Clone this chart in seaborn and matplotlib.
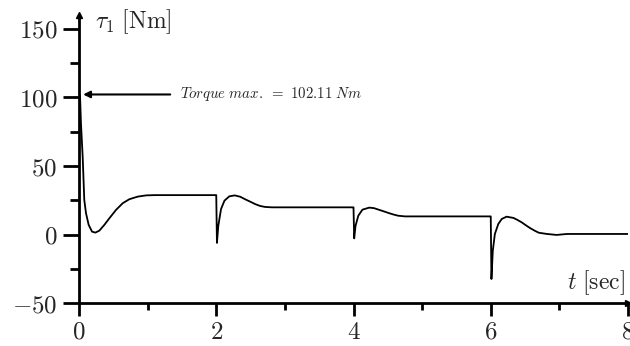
import numpy as np
import pandas as pd
import matplotlib
matplotlib.use("Agg")
import matplotlib.pyplot as plt
import seaborn as sns

# valeurs (t en s, couple en Nm)
t_sec = [0.0, 0.015, 0.029, 0.054, 0.066, 0.077, 0.102, 0.141, 0.19, 0.238,
         0.296, 0.369, 0.442, 0.539, 0.637, 0.733, 0.855, 0.977, 1.1, 1.4, 1.995,
         2.0, 2.01, 2.03, 2.07, 2.12, 2.19, 2.27, 2.35, 2.42, 2.5, 2.57, 2.64, 2.71, 2.81,
         3.2, 3.6, 3.995,
         4.0, 4.01, 4.03, 4.07, 4.13, 4.23, 4.3, 4.36, 4.44, 4.51, 4.58, 4.65, 4.75,
         5.2, 5.6, 5.995,
         6.0, 6.01, 6.03, 6.06, 6.11, 6.16, 6.23, 6.33, 6.39, 6.45, 6.51, 6.57, 6.64,
         6.70, 6.82, 6.96, 7.11, 7.5, 8.0]
torque = [102.11, 101.2, 80.6, 56.3, 40.0, 25.3, 15.6, 7.1, 2.2, 1.5,
          2.9, 7.1, 11.9, 18.0, 22.9, 25.8, 27.7, 28.6, 28.8, 28.8, 28.8,
          28.8, -6.0, 6.5, 18.7, 24.8, 27.9, 28.6, 27.6, 25.8, 23.9, 22.2, 20.9, 20.2, 19.9,
          19.9, 19.9, 19.9,
          19.9, -2.7, 6.5, 13.8, 18.2, 19.7, 19.3, 18.3, 17.0, 15.8, 14.7, 13.8, 13.3,
          13.3, 13.3, 13.3,
          13.3, -32.3, -11.7, 0.5, 7.8, 11.4, 13.1, 12.2, 10.7, 9.0, 6.9, 4.9, 2.9,
          1.4, 0.5, -0.2, 0.5, 0.5, 0.5]

x_major = [0, 2, 4, 6, 8]
x_minor = [1, 3, 5, 7]
y_major = [-50, 0, 50, 100, 150]
y_minor = [-25, 25, 75, 125]

sns.set_style("white")
plt.rcParams["mathtext.fontset"] = "cm"
plt.rcParams["font.family"] = ["DejaVu Serif"]

df = pd.DataFrame({"t": t_sec, "tau": torque})

fig = plt.figure(figsize=(6.3, 3.46), dpi=100)
ax = fig.add_axes([79 / 630, 1 - 303.3 / 346, (628 - 79) / 630, (303.3 - 15) / 346])

sns.lineplot(data=df, x="t", y="tau", sort=False, estimator=None,
             color="black", lw=1.3, ax=ax)

ax.set_xlim(0, 8)
ax.set_ylim(-50, 160)
ax.set_xlabel("")
ax.set_ylabel("")

for s in ["top", "right"]:
    ax.spines[s].set_visible(False)
for s in ["left", "bottom"]:
    ax.spines[s].set_linewidth(2)
    ax.spines[s].set_color("black")

ax.set_xticks(x_major)
ax.set_xticks(x_minor, minor=True)
ax.set_yticks(y_major)
ax.set_yticks(y_minor, minor=True)
ax.set_xticklabels([f"${v}$" for v in x_major], fontsize=18)
ax.set_yticklabels([f"${v}$" for v in y_major], fontsize=18)
ax.tick_params(axis="x", which="both", bottom=True, direction="out", width=2, color="black")
ax.tick_params(axis="y", which="both", left=True, direction="out", width=2, color="black")
ax.tick_params(axis="x", which="major", length=9.5, pad=3)
ax.tick_params(axis="x", which="minor", length=5)
ax.tick_params(axis="y", which="major", length=11.5, pad=4)
ax.tick_params(axis="y", which="minor", length=6.5)

# fleches en bout d'axes
ax.plot([0], [160], marker="^", color="black", ms=5, clip_on=False)
ax.plot([8], [-50], marker=">", color="black", ms=5, clip_on=False)

ax.text(0.23, 155, r"$\tau_1\ \mathrm{[Nm]}$", fontsize=17, ha="left", va="center")
ax.text(7.96, -35, r"$t\ \mathrm{[sec]}$", fontsize=17, ha="right", va="center")

ax.annotate("", xy=(0.02, 102.11), xytext=(1.37, 102.11),
            arrowprops=dict(arrowstyle="-|>", color="black", lw=1.5, mutation_scale=10))
ax.text(1.47, 102.11, r"$\mathit{Torque\ max.\ =\ 102.11\ Nm}$", fontsize=10.7,
        ha="left", va="center")

fig.savefig("out.png", dpi=100)
plt.close(fig)
